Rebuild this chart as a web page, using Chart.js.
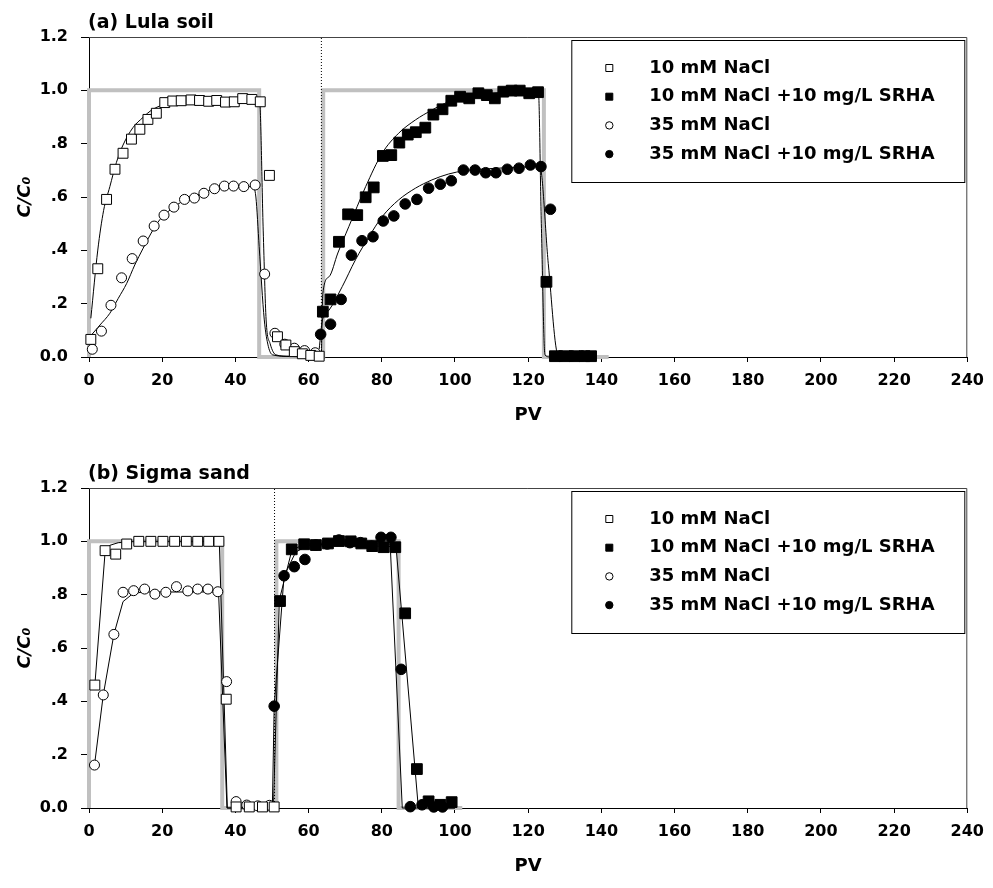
<!DOCTYPE html>
<html>
  <head>
    <title>Breakthrough curves</title>
    <script src="https://cdn.jsdelivr.net/npm/chart.js"></script>
    <style>
      body { margin: 0; background: #fff; }
      .panel { position: absolute; left: 0; width: 993px; height: 437px; }
    </style>
  </head>
  <body>
    <div class="panel" style="top:0"><canvas id="lula" width="993" height="437"></canvas></div>
    <div class="panel" style="top:451px"><canvas id="sigma" width="993" height="437"></canvas></div>

    <script>
      // ---- data ----
      const panelTitles = ["(a) Lula soil", "(b) Sigma sand"];
      const legendLabels = [
        "10 mM NaCl",
        "10 mM NaCl +10 mg/L SRHA",
        "35 mM NaCl",
        "35 mM NaCl +10 mg/L SRHA",
      ];
      const xTicks = [0, 20, 40, 60, 80, 100, 120, 140, 160, 180, 200, 220, 240];
      const yTicks = [0, 0.2, 0.4, 0.6, 0.8, 1.0, 1.2];

      // (a) Lula soil - measured
      const lula10PV = [0.5, 2.4, 4.8, 7.1, 9.3, 11.6, 13.9, 16.1, 18.4, 20.7, 22.9, 25.2, 27.9, 30.2, 32.7, 34.9, 37.3, 39.7, 42.0, 44.5, 46.8, 49.3, 51.5, 53.8, 56.1, 58.3, 60.6, 62.9];
      const lula10C = [0.066, 0.331, 0.591, 0.704, 0.764, 0.817, 0.854, 0.891, 0.914, 0.954, 0.960, 0.961, 0.964, 0.962, 0.959, 0.962, 0.956, 0.957, 0.969, 0.966, 0.957, 0.681, 0.076, 0.045, 0.02, 0.012, 0.006, 0.003];
      const lula10hPV = [63.9, 66.0, 68.3, 70.8, 73.3, 75.6, 77.8, 80.3, 82.6, 84.8, 87.1, 89.3, 91.9, 94.1, 96.6, 99.0, 101.4, 103.9, 106.4, 108.7, 110.9, 113.2, 115.5, 117.7, 120.3, 122.7, 125.0, 127.3, 130.0, 132.7, 135.4, 137.2];
      const lula10hC = [0.170, 0.216, 0.432, 0.535, 0.532, 0.599, 0.636, 0.754, 0.757, 0.804, 0.834, 0.843, 0.860, 0.909, 0.929, 0.961, 0.976, 0.970, 0.989, 0.982, 0.970, 0.995, 0.999, 0.999, 0.989, 0.993, 0.282, 0.003, 0.003, 0.003, 0.003, 0.003];
      const lula35PV = [0.9, 3.4, 6.0, 8.9, 11.8, 14.8, 17.8, 20.5, 23.2, 26.1, 28.8, 31.4, 34.3, 37.0, 39.5, 42.3, 45.4, 48.0, 50.8, 53.5, 56.1, 58.9, 61.8];
      const lula35C = [0.029, 0.097, 0.194, 0.297, 0.369, 0.435, 0.491, 0.532, 0.562, 0.591, 0.596, 0.614, 0.631, 0.641, 0.641, 0.639, 0.645, 0.311, 0.089, 0.048, 0.033, 0.024, 0.016];
      const lula35hPV = [63.3, 66.0, 68.9, 71.7, 74.6, 77.6, 80.4, 83.3, 86.4, 89.6, 92.8, 96.0, 99.0, 102.3, 105.5, 108.4, 111.2, 114.3, 117.5, 120.6, 123.5, 126.1, 128.9, 131.8, 134.7];
      const lula35hC = [0.085, 0.123, 0.216, 0.382, 0.436, 0.451, 0.510, 0.529, 0.574, 0.591, 0.633, 0.648, 0.661, 0.701, 0.701, 0.691, 0.691, 0.704, 0.708, 0.720, 0.714, 0.554, 0.004, 0.004, 0.004];

      // (a) Lula soil - model fits
      const lulaFit10PV = [0.5, 2.4, 4.0, 5.7, 7.5, 9.3, 12.0, 14.8, 17.0, 19.3, 23.9, 30, 40, 46.6, 47.6, 48.4, 49.5, 51.1, 55, 63.5];
      const lulaFit10C = [0.145, 0.401, 0.55, 0.639, 0.73, 0.795, 0.86, 0.899, 0.925, 0.941, 0.957, 0.962, 0.963, 0.961, 0.476, 0.139, 0.05, 0.008, 0.002, 0.0];
      const lulaFit35PV = [0.5, 3, 5.7, 8, 10.3, 12.5, 14.8, 17, 19.3, 21.6, 23.9, 28.4, 32.9, 37.5, 44.7, 45.6, 46.5, 47.9, 49.0, 50.2, 55, 63.5];
      const lulaFit35C = [0.08, 0.12, 0.164, 0.22, 0.276, 0.345, 0.408, 0.465, 0.514, 0.545, 0.570, 0.601, 0.624, 0.635, 0.639, 0.6, 0.414, 0.139, 0.04, 0.008, 0.002, 0];
      const lulaFit10hPV = [63.5, 63.9, 65.6, 68, 71.0, 73.3, 75.6, 80.1, 84.6, 89.2, 93.7, 98.2, 102.8, 107.3, 111.8, 117, 122.8, 123.6, 124.6, 126, 137];
      const lulaFit10hC = [0, 0.239, 0.301, 0.39, 0.489, 0.565, 0.639, 0.764, 0.839, 0.889, 0.926, 0.957, 0.976, 0.986, 0.991, 0.994, 0.995, 0.5, 0.008, 0, 0];
      const lulaFit35hPV = [62.9, 63.8, 65.6, 69.2, 72.8, 76.5, 80.1, 84.6, 89.2, 93.7, 98.2, 102.8, 111.8, 123.2, 125.5, 128.2, 137];
      const lulaFit35hC = [0.03, 0.139, 0.176, 0.264, 0.364, 0.451, 0.526, 0.589, 0.633, 0.664, 0.686, 0.699, 0.708, 0.714, 0.35, 0.008, 0];

      // (a) input pulse and switch marker
      const lulaInputPV = [0, 0, 46.5, 46.5, 64.0, 64.0, 124.3, 124.3, 142];
      const lulaInputC = [0, 1, 1, 0, 0, 1, 1, 0, 0];
      const lulaSwitchPV = [63.5, 63.5];
      const switchC = [0, 1.2];

      // (b) Sigma sand - measured
      const sigma10PV = [1.6, 4.4, 7.3, 10.3, 13.6, 16.9, 20.2, 23.4, 26.6, 29.7, 32.7, 35.5, 37.5, 40.2, 43.8, 47.4, 50.6];
      const sigma10C = [0.461, 0.965, 0.952, 0.990, 1.0, 1.0, 1.0, 1.0, 1.0, 1.0, 1.0, 1.0, 0.408, 0.004, 0.004, 0.004, 0.004];
      const sigma10hPV = [52.2, 55.4, 58.8, 62.0, 65.3, 68.3, 71.5, 74.4, 77.4, 80.5, 83.7, 86.4, 89.6, 92.8, 96.0, 99.1];
      const sigma10hC = [0.776, 0.970, 0.989, 0.986, 0.992, 1.001, 1.0, 0.992, 0.982, 0.978, 0.978, 0.730, 0.146, 0.025, 0.012, 0.022];
      const sigma35PV = [1.5, 3.9, 6.8, 9.3, 12.2, 15.2, 18.0, 21.0, 23.9, 27.0, 29.7, 32.5, 35.2, 37.6, 40.2, 43.1, 46.1, 49.3];
      const sigma35C = [0.161, 0.424, 0.651, 0.809, 0.815, 0.821, 0.802, 0.809, 0.830, 0.814, 0.821, 0.821, 0.811, 0.474, 0.024, 0.011, 0.008, 0.010];
      const sigma35hPV = [50.6, 53.3, 56.1, 59.0, 62.0, 65.1, 68.3, 71.3, 74.2, 77.2, 79.8, 82.5, 85.3, 87.8, 91.0, 94.2, 96.6];
      const sigma35hC = [0.382, 0.871, 0.905, 0.932, 0.986, 0.990, 1.005, 0.995, 0.995, 0.982, 1.015, 1.015, 0.520, 0.005, 0.012, 0.004, 0.004];

      // (b) Sigma sand - model fits
      const sigmaFit10PV = [1.6, 4.4, 5.7, 8, 12, 35.6, 37.8, 50.5];
      const sigmaFit10C = [0.461, 0.96, 0.985, 0.995, 1.0, 1.0, 0, 0];
      const sigmaFit35PV = [1.5, 3.9, 6.8, 9.3, 12.1, 15, 35.4, 37.7, 50];
      const sigmaFit35C = [0.161, 0.424, 0.651, 0.774, 0.805, 0.81, 0.81, 0, 0];
      const sigmaFit10hPV = [50.4, 52.0, 55.4, 58.8, 62, 83.9, 90.0, 100];
      const sigmaFit10hC = [0, 0.78, 0.965, 0.99, 0.99, 0.98, 0, 0];
      const sigmaFit35hPV = [50.1, 50.6, 53.3, 56.5, 60, 65, 82.3, 85.6, 100];
      const sigmaFit35hC = [0, 0.38, 0.87, 0.96, 0.985, 0.99, 0.99, 0, 0];

      // (b) input pulse and switch marker
      const sigmaInputPV = [0, 0, 36.4, 36.4, 51.2, 51.2, 84.6, 84.6, 102];
      const sigmaInputC = [0, 1, 1, 0, 0, 1, 1, 0, 0];
      const sigmaSwitchPV = [50.7, 50.7];

      // ---- drawing ----
      const FONT = "'DejaVu Sans', 'Liberation Sans', sans-serif";
      Chart.defaults.font.family = FONT;
      Chart.defaults.color = "#000";

      function pts(xs, ys) {
        return xs.map((x, i) => ({ x: x, y: ys[i] }));
      }

      function tickLabel(v) {
        if (Math.abs(v) < 1e-9) return "0.0";
        const s = v.toFixed(1);
        return v < 1 ? s.slice(1) : s;
      }

      function markers(data, style, filled, r) {
        return {
          data: data,
          showLine: false,
          pointStyle: style,
          pointRadius: r,
          pointBackgroundColor: filled ? "#000" : "#fff",
          pointBorderColor: "#000",
          pointBorderWidth: 1,
          clip: false,
          order: 0,
        };
      }

      function line(data, smooth) {
        return {
          data: data,
          showLine: true,
          pointRadius: 0,
          borderColor: "#000",
          borderWidth: 1,
          cubicInterpolationMode: smooth ? "monotone" : "default",
          clip: false,
          order: 1,
        };
      }

      // top and right frame of the plot box
      const frame = {
        id: "frame",
        beforeDatasetsDraw(chart) {
          const { ctx, chartArea: a } = chart;
          ctx.save();
          ctx.strokeStyle = "#444";
          ctx.lineWidth = 1;
          ctx.beginPath();
          ctx.moveTo(a.left, a.top + 0.5);
          ctx.lineTo(a.right - 0.5, a.top + 0.5);
          ctx.lineTo(a.right - 0.5, a.bottom);
          ctx.stroke();
          ctx.restore();
        },
      };

      const panelTitle = {
        id: "panelTitle",
        afterDraw(chart, args, opts) {
          const { ctx, chartArea: a } = chart;
          ctx.save();
          ctx.font = "bold 19px " + FONT;
          ctx.fillStyle = "#000";
          ctx.textBaseline = "middle";
          ctx.fillText(opts.text, a.left - 1, a.top - 14);
          ctx.restore();
        },
      };

      // boxed legend inside the plot, top right
      const boxLegend = {
        id: "boxLegend",
        afterDraw(chart) {
          const { ctx, chartArea: a } = chart;
          const left = a.right - 396;
          const top = a.top + 3;
          ctx.save();
          ctx.fillStyle = "#fff";
          ctx.fillRect(left, top, 393, 142);
          ctx.strokeStyle = "#000";
          ctx.lineWidth = 1;
          ctx.strokeRect(left + 0.5, top + 0.5, 393, 142);
          ctx.font = "bold 18px " + FONT;
          ctx.textBaseline = "middle";
          legendLabels.forEach((label, i) => {
            const ds = chart.data.datasets[i];
            const x = left + 38;
            const y = top + 28 + i * 28.7;
            ctx.fillStyle = ds.pointBackgroundColor;
            ctx.strokeStyle = "#000";
            ctx.beginPath();
            if (ds.pointStyle === "rect") {
              ctx.rect(x - 3.5, y - 3.5, 7, 7);
            } else {
              ctx.arc(x, y, 3.7, 0, Math.PI * 2);
            }
            ctx.fill();
            ctx.stroke();
            ctx.fillStyle = "#000";
            ctx.fillText(label, left + 78, y);
          });
          ctx.restore();
        },
      };

      function makeChart(id, title, sets, smooth) {
        const datasets = [
          markers(pts(sets.m10[0], sets.m10[1]), "rect", false, 7),
          markers(pts(sets.m10h[0], sets.m10h[1]), "rect", true, 7.6),
          markers(pts(sets.m35[0], sets.m35[1]), "circle", false, 5),
          markers(pts(sets.m35h[0], sets.m35h[1]), "circle", true, 5.3),
          line(pts(sets.f10[0], sets.f10[1]), smooth),
          line(pts(sets.f10h[0], sets.f10h[1]), smooth),
          line(pts(sets.f35[0], sets.f35[1]), smooth),
          line(pts(sets.f35h[0], sets.f35h[1]), smooth),
          {
            data: pts(sets.sw, switchC),
            showLine: true,
            pointRadius: 0,
            borderColor: "#000",
            borderWidth: 1,
            borderDash: [1, 2],
            clip: false,
            order: 2,
          },
          {
            data: pts(sets.input[0], sets.input[1]),
            showLine: true,
            pointRadius: 0,
            borderColor: "#c0c0c0",
            borderWidth: 4,
            borderJoinStyle: "miter",
            clip: false,
            order: 3,
          },
        ];

        new Chart(document.getElementById(id), {
          type: "scatter",
          data: { datasets: datasets },
          options: {
            responsive: false,
            animation: false,
            events: [],
            layout: { padding: { top: 37, right: 22, left: 0, bottom: 0 } },
            plugins: {
              legend: { display: false },
              tooltip: { enabled: false },
              panelTitle: { text: title },
            },
            scales: {
              x: {
                type: "linear",
                min: 0,
                max: 240,
                afterBuildTicks: (s) => { s.ticks = xTicks.map((v) => ({ value: v })); },
                afterFit: (s) => { s.height = 80; },
                ticks: { color: "#000", font: { size: 16, weight: "bold" }, padding: 9, maxRotation: 0 },
                grid: { drawOnChartArea: false, tickLength: 5, color: "#000" },
                border: { color: "#000", width: 1 },
                title: {
                  display: true,
                  text: "PV",
                  color: "#000",
                  font: { size: 18, weight: "bold" },
                  padding: { top: 0, bottom: 11 },
                },
              },
              y: {
                type: "linear",
                min: 0,
                max: 1.2,
                afterBuildTicks: (s) => { s.ticks = yTicks.map((v) => ({ value: v })); },
                afterFit: (s) => { s.width = 89; },
                ticks: { color: "#000", font: { size: 16, weight: "bold" }, padding: 13, callback: tickLabel },
                grid: { drawOnChartArea: false, tickLength: 8, color: "#000" },
                border: { color: "#000", width: 1 },
                title: {
                  display: true,
                  text: "C/C\u2080",
                  color: "#000",
                  font: { size: 18, weight: "bold", style: "italic" },
                  padding: { top: 15, bottom: 0 },
                },
              },
            },
          },
          plugins: [frame, panelTitle, boxLegend],
        });
      }

      makeChart("lula", panelTitles[0], {
        m10: [lula10PV, lula10C],
        m10h: [lula10hPV, lula10hC],
        m35: [lula35PV, lula35C],
        m35h: [lula35hPV, lula35hC],
        f10: [lulaFit10PV, lulaFit10C],
        f10h: [lulaFit10hPV, lulaFit10hC],
        f35: [lulaFit35PV, lulaFit35C],
        f35h: [lulaFit35hPV, lulaFit35hC],
        sw: lulaSwitchPV,
        input: [lulaInputPV, lulaInputC],
      }, true);

      makeChart("sigma", panelTitles[1], {
        m10: [sigma10PV, sigma10C],
        m10h: [sigma10hPV, sigma10hC],
        m35: [sigma35PV, sigma35C],
        m35h: [sigma35hPV, sigma35hC],
        f10: [sigmaFit10PV, sigmaFit10C],
        f10h: [sigmaFit10hPV, sigmaFit10hC],
        f35: [sigmaFit35PV, sigmaFit35C],
        f35h: [sigmaFit35hPV, sigmaFit35hC],
        sw: sigmaSwitchPV,
        input: [sigmaInputPV, sigmaInputC],
      }, false);
    </script>
  </body>
</html>
